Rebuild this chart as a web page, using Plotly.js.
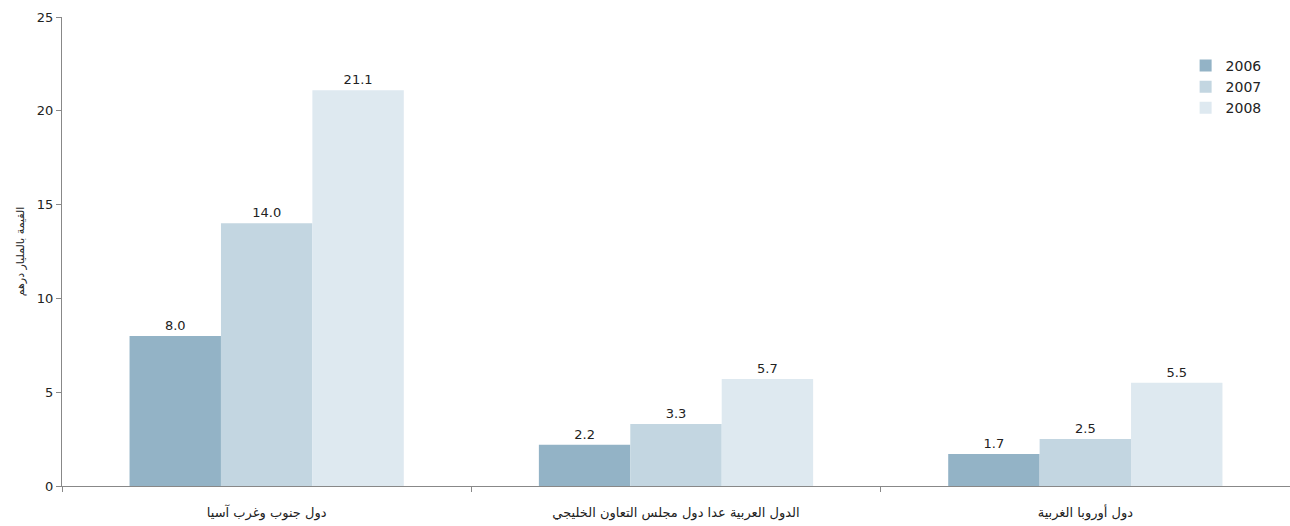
<!DOCTYPE html>
<html>
<head>
<meta charset="utf-8">
<script src="https://cdn.plot.ly/plotly-3.0.1.min.js"></script>
<style>html,body{margin:0;padding:0;background:#fff;}#chart{width:1290px;height:526px;}</style>
</head>
<body>
<div id="chart"></div>
<script>
const categories = ["دول جنوب وغرب آسيا", "الدول العربية عدا دول مجلس التعاون الخليجي", "دول أوروبا الغربية"];
const years = ["2006", "2007", "2008"];
const values2006 = [8.0, 2.2, 1.7];
const values2007 = [14.0, 3.3, 2.5];
const values2008 = [21.1, 5.7, 5.5];
const yTitle = "القيمة بالمليار درهم";

const series = [values2006, values2007, values2008];
const colors = ["#93b3c6", "#c3d6e1", "#dee9f0"];
const font = "DejaVu Sans, Verdana, sans-serif";

const traces = series.map((vals, i) => ({
  type: "bar",
  name: years[i],
  x: categories,
  y: vals,
  marker: {color: colors[i], line: {width: 0}},
  text: vals.map(v => v.toFixed(1)),
  textposition: "outside",
  cliponaxis: false,
  textfont: {family: font, size: 13, color: "#222"},
  hoverinfo: "skip"
}));

const layout = {
  width: 1290, height: 526,
  margin: {l: 62, r: 0, t: 17, b: 40},
  paper_bgcolor: "#fff", plot_bgcolor: "#fff",
  barmode: "group",
  bargap: 0.33, bargroupgap: 0,
  font: {family: font, size: 13, color: "#222"},
  showlegend: true,
  legend: {x: 0.915, y: 0.93, xanchor: "left", yanchor: "top", font: {family: font, size: 14, color: "#222"}, itemwidth: 30, tracegroupgap: 0, bgcolor: "rgba(0,0,0,0)"},
  xaxis: {
    type: "category",
    showline: true, linecolor: "#888", linewidth: 1,
    ticks: "outside", tickson: "boundaries", ticklen: 5, tickcolor: "#888",
    ticklabelstandoff: 14,
    showgrid: false, zeroline: false,
    tickfont: {family: font, size: 13, color: "#222"}
  },
  yaxis: {
    range: [0, 25], dtick: 5,
    showline: true, linecolor: "#888", linewidth: 1,
    ticks: "outside", ticklen: 5, tickcolor: "#888",
    showgrid: false, zeroline: false,
    tickfont: {family: font, size: 13, color: "#222"},
    title: {text: yTitle, font: {family: font, size: 11, color: "#222"}, standoff: 10}
  }
};

Plotly.newPlot("chart", traces, layout, {displayModeBar: false, staticPlot: true});
</script>
</body>
</html>
